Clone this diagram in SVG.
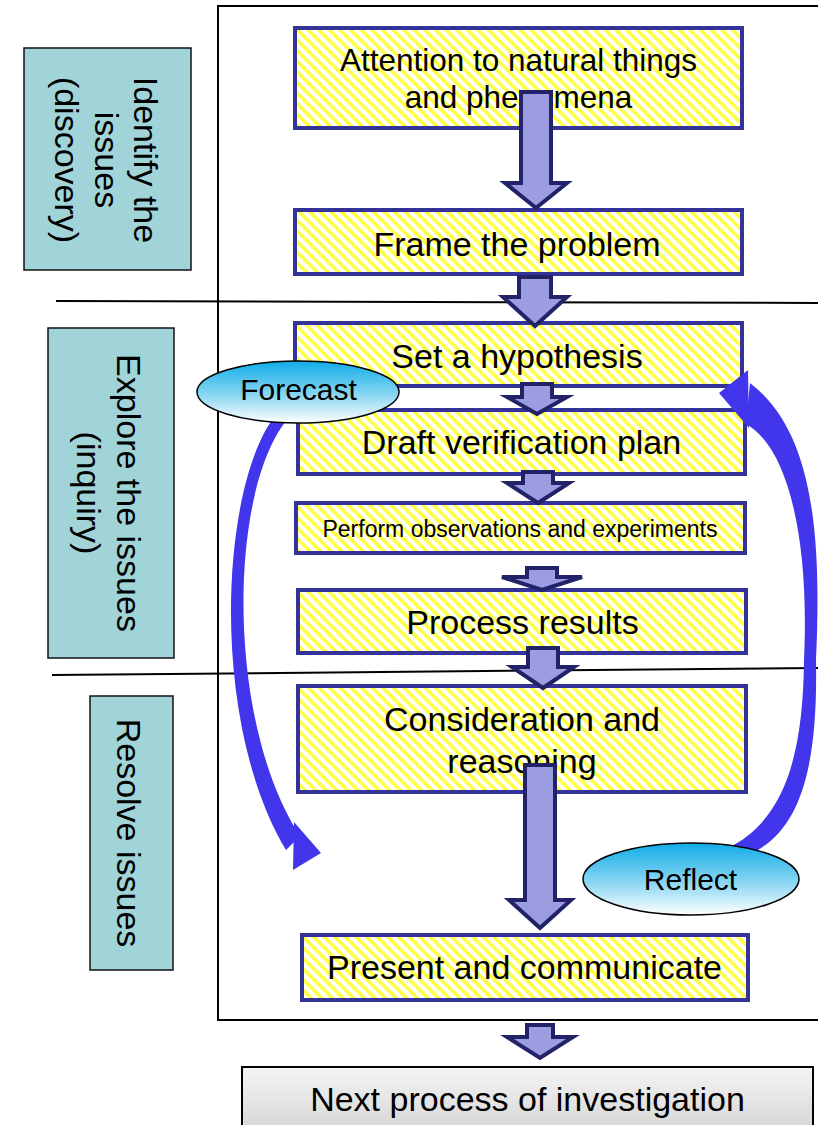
<svg xmlns="http://www.w3.org/2000/svg" width="818" height="1125" viewBox="0 0 818 1125">
<defs>
<pattern id="hatch" patternUnits="userSpaceOnUse" width="7.5" height="7.5" patternTransform="rotate(-45)">
<rect width="7.5" height="7.5" fill="#ffffff"/>
<rect width="3.6" height="7.5" fill="#ffff44"/>
</pattern>
<linearGradient id="oval" x1="0" y1="0" x2="0" y2="1">
<stop offset="0" stop-color="#10ace8"/>
<stop offset="0.55" stop-color="#8ad6f2"/>
<stop offset="1" stop-color="#ffffff"/>
</linearGradient>
<linearGradient id="gray" x1="0" y1="0" x2="0" y2="1">
<stop offset="0" stop-color="#f4f4f4"/>
<stop offset="1" stop-color="#cfcfcf"/>
</linearGradient>
<style>
.box{fill:url(#hatch);stroke:#333399;stroke-width:4}
.side{fill:#a0d4d8;stroke:#111;stroke-width:1.5}
.t{font-family:"Liberation Sans",Arial,sans-serif;fill:#000;text-anchor:middle}
.blk{fill:#9c9ce0;stroke:#222268;stroke-width:4;stroke-linejoin:miter}
.band{fill:#4236ec}
.oval{fill:url(#oval);stroke:#000;stroke-width:1.5}
.line{stroke:#000;stroke-width:2;fill:none}
</style>
</defs>
<rect width="818" height="1125" fill="#ffffff"/>

<g id="frame">
<rect x="218" y="6" width="604" height="1014" class="line"/>
<line x1="56" y1="301" x2="818" y2="303" class="line"/>
<line x1="52" y1="675" x2="818" y2="668" class="line"/>
</g>

<g id="side-identify">
<rect x="24" y="48" width="167" height="222" class="side"/>
<g class="t" font-size="34">
<text transform="translate(134,160) rotate(90)">Identify the</text>
<text transform="translate(95,160) rotate(90)">issues</text>
<text transform="translate(55,160) rotate(90)">(discovery)</text>
</g>
</g>
<g id="side-explore">
<rect x="48" y="328" width="126" height="330" class="side"/>
<g class="t" font-size="34">
<text transform="translate(117,493) rotate(90)">Explore the issues</text>
<text transform="translate(77,493) rotate(90)">(inquiry)</text>
</g>
</g>
<g id="side-resolve">
<rect x="90" y="696" width="83" height="274" class="side"/>
<text class="t" font-size="34" transform="translate(117,833) rotate(90)">Resolve issues</text>
</g>

<g id="n-attention">
<rect x="295" y="28" width="447" height="100" class="box"/>
<text class="t" font-size="31.5" x="518.5" y="71">Attention to natural things</text>
<text class="t" font-size="31.5" x="518.5" y="108">and phenomena</text>
</g>
<g id="n-frame">
<rect x="295" y="210" width="447" height="64" class="box"/>
<text class="t" font-size="34" x="517" y="256">Frame the problem</text>
</g>
<g id="n-hypothesis">
<rect x="295" y="323" width="447" height="63" class="box"/>
<text class="t" font-size="34" x="517" y="368">Set a hypothesis</text>
</g>
<g id="n-draft">
<rect x="298" y="410" width="447" height="64" class="box"/>
<text class="t" font-size="34" x="521.5" y="454">Draft verification plan</text>
</g>
<g id="n-perform">
<rect x="296" y="503" width="449" height="50" class="box"/>
<text class="t" font-size="23" x="520" y="537">Perform observations and experiments</text>
</g>
<g id="n-process">
<rect x="298" y="590" width="448" height="63" class="box"/>
<text class="t" font-size="34" x="522.5" y="634">Process results</text>
</g>
<g id="n-consider">
<rect x="298" y="686" width="448" height="106" class="box"/>
<text class="t" font-size="34" x="522" y="731">Consideration and</text>
<text class="t" font-size="34" x="522" y="773">reasoning</text>
</g>
<g id="n-present">
<rect x="302" y="935" width="446" height="65" class="box"/>
<text class="t" font-size="34" x="524.5" y="979">Present and communicate</text>
</g>
<g id="n-next">
<rect x="242" y="1067" width="571" height="80" fill="url(#gray)" stroke="#000" stroke-width="2"/>
<text class="t" font-size="34" x="527.5" y="1111">Next process of investigation</text>
</g>

<g id="connectors">
<polygon class="blk" points="521,92 551,92 551,183 567,183 536,208 505,183 521,183"/>
<polygon class="blk" points="519,277 551,277 551,297 567,297 535,326 503,297 519,297"/>
<polygon class="blk" points="522,384 552,384 552,397 567,397 537,414 507,397 522,397"/>
<polygon class="blk" points="523,472 553,472 553,483 569,483 538,503 507,483 523,483"/>
<polygon class="blk" points="527,568 557,568 557,577 582,577 542,590 502,577 527,577"/>
<polygon class="blk" points="528,648 558,648 558,667 574,667 543,688 512,667 528,667"/>
<polygon class="blk" points="525,765 555,765 555,900 571,900 540,928 509,900 525,900"/>
<polygon class="blk" points="527,1025 553,1025 553,1037 573,1037 540,1058 507,1037 527,1037"/>
<path class="band" d="M278 412 C220 480 208 720 286 850 L300 836 C224 720 228 480 292 414 Z"/>
<polygon class="band" points="294,822 321,853 293,870"/>
<path class="band" d="M745 856 C800 835 818 770 816 660 C822 530 812 430 750 383 L746 424 C785 445 810 530 804 660 C803 755 785 820 728 848 Z"/>
<polygon class="band" points="719,393 748,370 749,428"/>
</g>

<g id="forecast">
<ellipse cx="298" cy="392" rx="101" ry="31" class="oval"/>
<text class="t" font-size="30" x="298.5" y="400">Forecast</text>
</g>
<g id="reflect">
<ellipse cx="691" cy="879" rx="108" ry="36" class="oval"/>
<text class="t" font-size="30" x="690.5" y="890">Reflect</text>
</g>
</svg>
